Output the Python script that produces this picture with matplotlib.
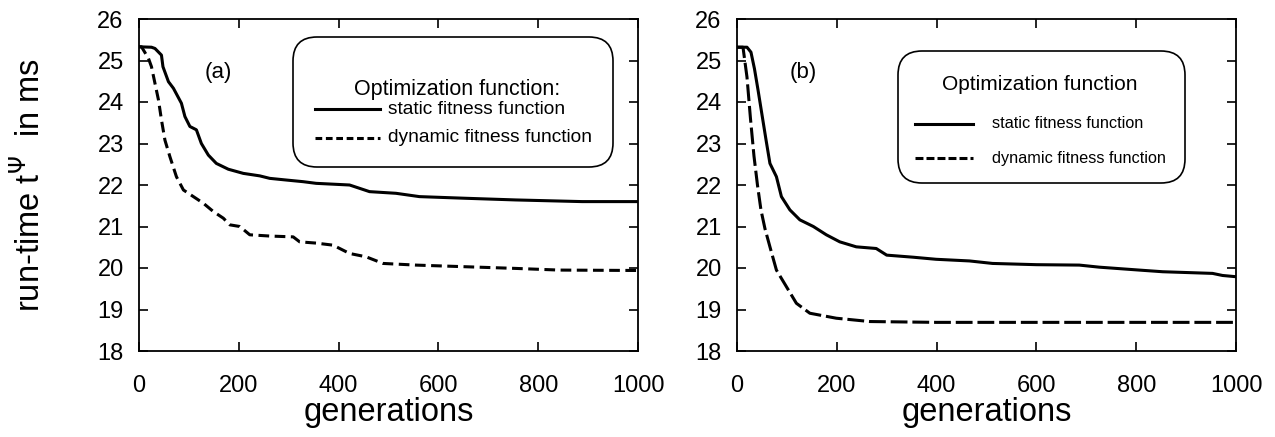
import matplotlib
matplotlib.use('Agg')
import matplotlib.pyplot as plt
from matplotlib.patches import FancyBboxPatch
from matplotlib.lines import Line2D
from matplotlib.transforms import IdentityTransform

plt.rcParams['font.family'] = ['Liberation Sans', 'DejaVu Sans']

W, H = 1275, 437

# panel (a)
gen_a_static = [0, 25, 32, 45, 48, 59, 69, 85, 92, 102, 115, 125, 139, 155, 179, 209, 242, 262,
                295, 329, 355, 422, 462, 515, 562, 655, 755, 888, 1000]
run_a_static = [25.33, 25.32, 25.29, 25.13, 24.85, 24.49, 24.33, 23.97, 23.65, 23.41, 23.33, 23.0,
                22.72, 22.52, 22.38, 22.28, 22.22, 22.16, 22.12, 22.08, 22.04, 22.0, 21.84, 21.8,
                21.72, 21.68, 21.64, 21.6, 21.6]
gen_a_dynamic = [0, 5, 19, 25, 32, 39, 45, 52, 62, 75, 89, 109, 129, 149, 169, 182, 202, 222, 262,
                 309, 322, 355, 389, 422, 455, 489, 555, 655, 755, 842, 1000]
run_a_dynamic = [25.33, 25.33, 25.05, 24.85, 24.45, 24.05, 23.57, 23.08, 22.68, 22.2, 21.88, 21.72,
                 21.56, 21.36, 21.2, 21.04, 21.0, 20.8, 20.77, 20.75, 20.63, 20.6, 20.55, 20.35,
                 20.27, 20.11, 20.07, 20.03, 19.99, 19.95, 19.94]

# panel (b)
gen_b_static = [0, 20, 28, 35, 42, 50, 58, 66, 79, 89, 106, 126, 153, 179, 206, 239, 279, 300,
                353, 399, 466, 512, 600, 686, 726, 806, 853, 953, 973, 1000]
run_b_static = [25.32, 25.32, 25.2, 24.8, 24.3, 23.7, 23.1, 22.52, 22.2, 21.72, 21.4, 21.16, 21.0,
                20.8, 20.63, 20.51, 20.47, 20.31, 20.26, 20.21, 20.17, 20.11, 20.08, 20.07, 20.02,
                19.95, 19.91, 19.87, 19.82, 19.79]
gen_b_dynamic = [0, 12, 20, 27, 34, 41, 48, 56, 66, 79, 99, 119, 146, 199, 266, 400, 1000]
run_b_dynamic = [25.32, 25.32, 24.6, 23.6, 22.7, 22.0, 21.4, 20.95, 20.51, 19.95, 19.55, 19.15,
                 18.91, 18.79, 18.71, 18.69, 18.69]

xticks = [0, 200, 400, 600, 800, 1000]
yticks = [18, 19, 20, 21, 22, 23, 24, 25, 26]


def px_box(left, top, width, height):
    return [left / W, 1 - (top + height) / H, width / W, height / H]


def style_axes(ax):
    ax.set_xlim(0, 1000)
    ax.set_ylim(18, 26)
    ax.set_xticks(xticks)
    ax.set_yticks(yticks)
    ax.tick_params(direction='in', top=True, right=True, length=6.5, width=1.2,
                   labelsize=17)
    ax.tick_params(axis='x', pad=17)
    ax.tick_params(axis='y', pad=11)
    for s in ax.spines.values():
        s.set_linewidth(1.3)
    ax.set_xlabel('generations', fontsize=23.5, labelpad=0)


def draw_legend(fig, box, title, title_xy, title_size, rows, line_x, text_x, entry_size):
    x0, y0, x1, y1 = box
    patch = FancyBboxPatch((x0, H - y1), x1 - x0, y1 - y0,
                           boxstyle='round,pad=0,rounding_size=24',
                           transform=IdentityTransform(), facecolor='white',
                           edgecolor='black', linewidth=1.2)
    fig.add_artist(patch)
    fig.text(title_xy[0] / W, 1 - title_xy[1] / H, title, fontsize=title_size,
             ha='center', va='center')
    for y, label, ls in rows:
        fig.add_artist(Line2D([line_x[0] / W, line_x[1] / W], [1 - y / H, 1 - y / H],
                              transform=fig.transFigure, color='black', lw=2.2,
                              linestyle=ls))
        fig.text(text_x / W, 1 - y / H, label, fontsize=entry_size, ha='left', va='center')


fig = plt.figure(figsize=(W / 100, H / 100), dpi=100)
ax_a = fig.add_axes(px_box(139, 19, 499, 332))
ax_b = fig.add_axes(px_box(737, 19, 499, 332))

ax_a.plot(gen_a_static, run_a_static, color='black', lw=2.2)
ax_a.plot(gen_a_dynamic, run_a_dynamic, color='black', lw=2.2, linestyle=(0, (3.5, 1.8)))
ax_b.plot(gen_b_static, run_b_static, color='black', lw=2.2)
ax_b.plot(gen_b_dynamic, run_b_dynamic, color='black', lw=2.2, linestyle=(0, (5.5, 1.6)))

for ax in (ax_a, ax_b):
    style_axes(ax)

ax_a.text(158, 24.72, '(a)', fontsize=16, ha='center', va='center')
ax_b.text(132, 24.72, '(b)', fontsize=16, ha='center', va='center')

fig.text(30 / W, 1 - 185 / H, r'run-time t$^{\Psi}$  in ms', rotation=90, fontsize=23.5,
         ha='center', va='center')

draw_legend(fig, (293, 37, 613, 167), 'Optimization function:', (457, 90), 15.5,
            [(109, 'static fitness function', '-'),
             (138, 'dynamic fitness function', (0, (2.2, 1.2)))],
            (315, 380), 388, 13.8)
draw_legend(fig, (898, 51, 1185, 183), 'Optimization function', (1040, 85), 15,
            [(124, 'static fitness function', '-'),
             (158, 'dynamic fitness function', (0, (2.6, 1.0)))],
            (915, 973), 992, 11.7)

fig.savefig('out.png', dpi=100)
